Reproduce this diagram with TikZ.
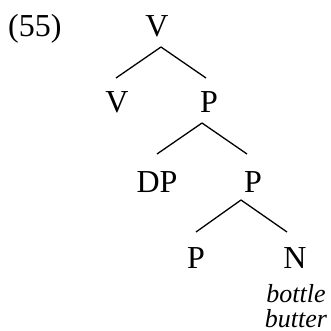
\documentclass[tikz,border=0pt]{standalone}
\usepackage{fontspec}
\setmainfont{Liberation Serif}
\usetikzlibrary{calc}
\tikzset{
  lbl/.style={inner sep=0pt, anchor=base, font=\fontsize{32}{32}\selectfont},
  leaf/.style={inner sep=0pt, anchor=base, font=\fontsize{26}{26}\selectfont\itshape},
  branch/.style={line width=1.3pt}
}
\begin{document}
\begin{tikzpicture}[x=1pt,y=-1pt]
  \useasboundingbox (0,0) rectangle (330,331);
  % example number
  \node[lbl, anchor=base west] (ex) at (8,37) {(55)};
  % tree labels
  \node[lbl] (v0) at (157,37) {V};
  \node[lbl] (v1) at (117,113) {V};
  \node[lbl] (p1) at (209,113) {P};
  \node[lbl] (dp) at (157,192) {DP};
  \node[lbl] (p2) at (253,192) {P};
  \node[lbl] (p3) at (196,268) {P};
  \node[lbl] (n) at (295,268) {N};
  \node[leaf] (w1) at (296,302) {bottle};
  \node[leaf] (w2) at (296,327) {butter};
  % branches
  \draw[branch] ($(v0.base)+(4,10)$) -- ($(v1.base)+(-1,-35)$);
  \draw[branch] ($(v0.base)+(4,10)$) -- ($(p1.base)+(-3,-35)$);
  \draw[branch] ($(p1.base)+(-7,10)$) -- ($(dp.base)+(0,-38)$);
  \draw[branch] ($(p1.base)+(-7,10)$) -- ($(p2.base)+(-6,-38)$);
  \draw[branch] ($(p2.base)+(-12,8)$) -- ($(p3.base)+(0,-36)$);
  \draw[branch] ($(p2.base)+(-12,8)$) -- ($(n.base)+(-8,-36)$);
\end{tikzpicture}
\end{document}
